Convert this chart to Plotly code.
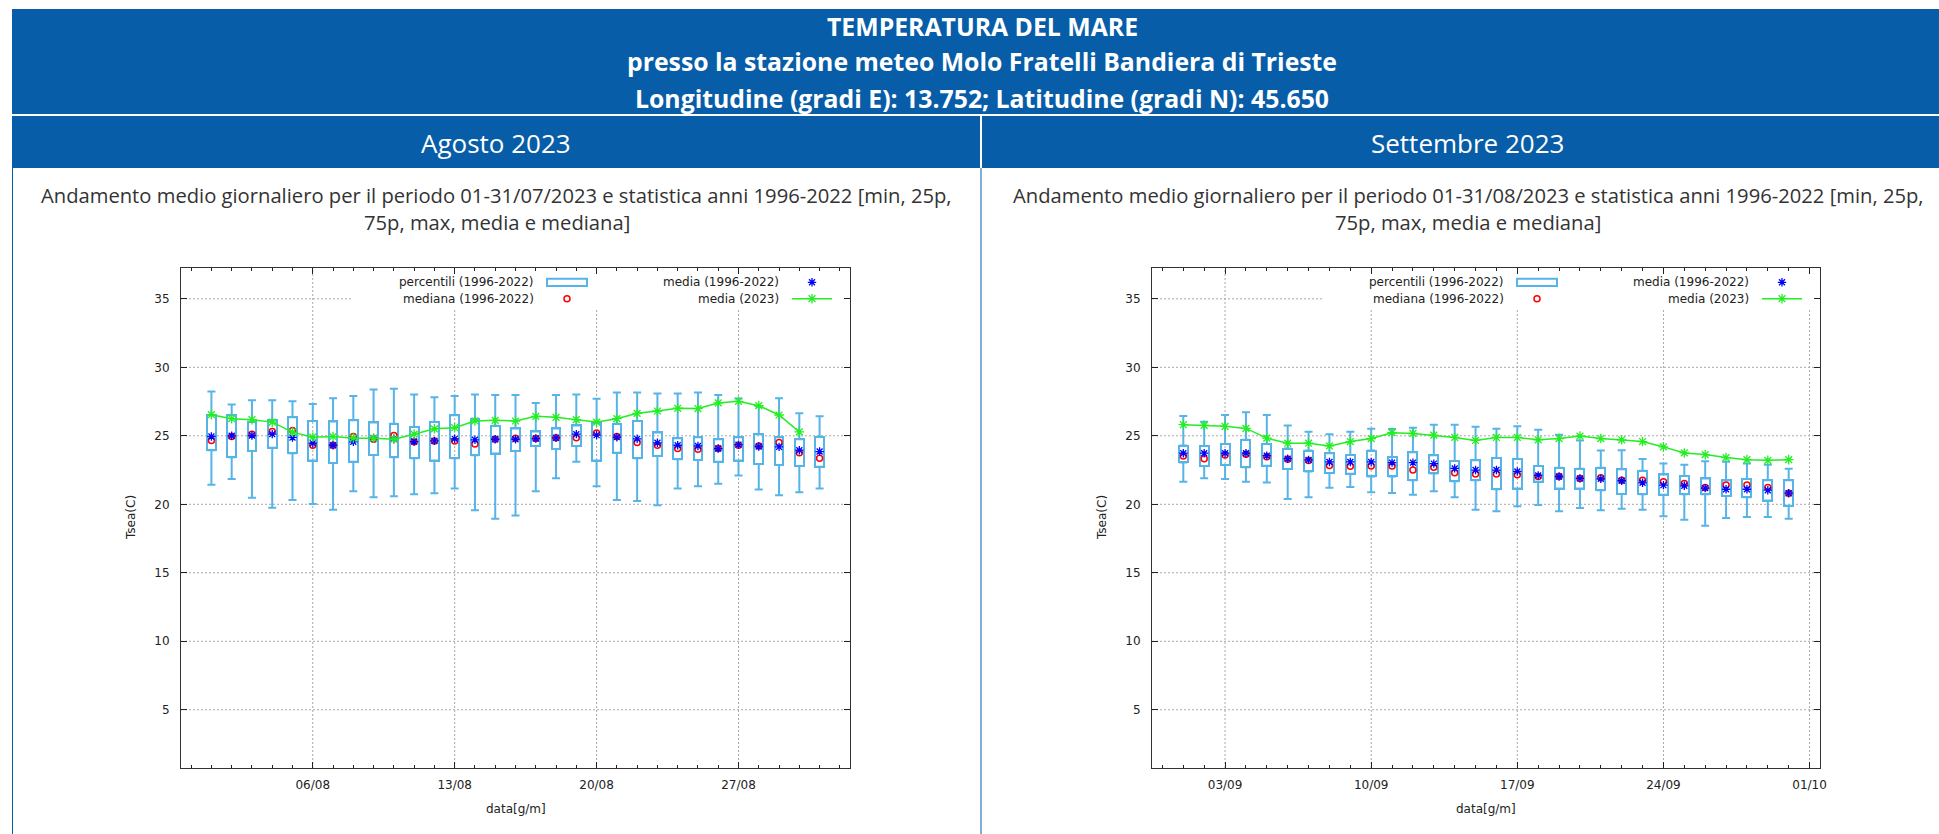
import pandas as pd
import plotly.graph_objects as go

# ---------------- data ----------------
aug_days = pd.date_range("2023-08-01", periods=31, freq="D")
aug_min = [21.42, 21.84, 20.47, 19.75, 20.32, 20.02, 19.61, 20.96, 20.51, 20.59, 20.74, 20.81, 21.15, 19.56, 18.95, 19.19,
           20.96, 21.91, 23.11, 21.32, 20.32, 20.25, 19.93, 21.15, 21.32, 21.50, 22.11, 21.08, 20.66, 20.88, 21.15]
aug_q1 = [23.95, 23.43, 23.90, 24.12, 23.73, 23.19, 23.01, 23.11, 23.60, 23.43, 23.36, 23.19, 23.36, 23.58, 23.70, 23.90,
          24.26, 24.04, 24.26, 23.19, 23.77, 23.36, 23.53, 23.28, 23.24, 23.11, 23.19, 22.94, 22.87, 22.79, 22.75]
aug_q3 = [26.50, 26.52, 26.03, 26.13, 26.35, 26.08, 26.05, 26.13, 25.98, 25.88, 25.64, 26.00, 26.50, 26.25, 25.74, 25.54,
          25.32, 25.54, 25.76, 25.93, 25.88, 26.08, 25.25, 24.83, 24.90, 24.75, 24.90, 25.12, 24.90, 24.75, 24.93]
aug_max = [28.24, 27.28, 27.60, 27.60, 27.52, 27.33, 27.75, 27.90, 28.38, 28.43, 28.01, 27.82, 27.90, 28.01, 27.97, 27.97,
           27.40, 27.97, 28.01, 27.70, 28.16, 28.16, 28.09, 28.09, 28.16, 27.97, 27.72, 27.15, 27.75, 26.64, 26.42]
aug_mean = [24.95, 25.00, 25.02, 25.12, 24.88, 24.46, 24.31, 24.56, 24.83, 24.78, 24.58, 24.63, 24.78, 24.71, 24.75, 24.75,
            24.80, 24.85, 25.12, 25.05, 24.90, 24.78, 24.49, 24.31, 24.26, 24.07, 24.36, 24.22, 24.19, 23.95, 23.85]
aug_median = [24.66, 24.95, 25.12, 25.32, 25.39, 24.31, 24.31, 24.95, 24.75, 25.02, 24.56, 24.63, 24.63, 24.41, 24.75, 24.83,
              24.80, 24.85, 24.85, 25.20, 24.95, 24.51, 24.31, 24.07, 24.02, 24.07, 24.31, 24.26, 24.51, 23.77, 23.36]
aug_2023 = [26.54, 26.25, 26.18, 26.00, 25.27, 24.90, 24.95, 24.83, 24.83, 24.75, 25.12, 25.51, 25.59, 26.08, 26.13, 26.08,
            26.42, 26.35, 26.18, 26.00, 26.25, 26.64, 26.81, 27.01, 26.99, 27.40, 27.52, 27.20, 26.52, 25.29, None]

sep_days = pd.date_range("2023-09-01", periods=30, freq="D")
sep_min = [21.64, 21.91, 21.84, 21.64, 21.59, 20.39, 20.51, 21.20, 21.27, 20.88, 20.83, 20.69, 20.96, 20.51, 19.61,
           19.49, 19.85, 19.95, 19.49, 19.73, 19.56, 19.68, 19.61, 19.12, 18.87, 18.43, 19.00, 19.07, 19.07, 18.95]
sep_q1 = [23.06, 22.79, 22.87, 22.70, 22.82, 22.57, 22.40, 22.28, 22.23, 22.03, 22.03, 21.76, 22.25, 21.69, 21.76,
          21.10, 21.15, 21.64, 21.15, 21.15, 21.03, 20.76, 20.74, 20.69, 20.74, 20.74, 20.61, 20.51, 20.27, 19.90]
sep_q3 = [24.29, 24.26, 24.41, 24.71, 24.41, 24.07, 23.92, 23.73, 23.60, 23.92, 23.46, 23.80, 23.58, 23.16, 23.21,
          23.38, 23.31, 22.79, 22.67, 22.60, 22.67, 22.55, 22.45, 22.18, 22.06, 21.89, 21.76, 21.84, 21.76, 21.76]
sep_max = [26.45, 26.03, 26.52, 26.72, 26.52, 25.76, 25.29, 25.12, 25.29, 25.51, 25.50, 25.59, 25.81, 25.81, 25.66,
           25.51, 25.69, 25.44, 25.07, 24.65, 23.92, 23.95, 23.31, 22.97, 22.89, 23.14, 23.11, 22.97, 22.89, 22.60]
sep_mean = [23.73, 23.73, 23.73, 23.73, 23.55, 23.33, 23.24, 23.09, 23.09, 23.09, 23.04, 23.04, 22.97, 22.62, 22.50,
            22.50, 22.40, 22.11, 22.03, 21.89, 21.86, 21.72, 21.57, 21.40, 21.35, 21.18, 21.10, 21.10, 21.03, 20.81]
sep_median = [23.53, 23.33, 23.60, 23.65, 23.48, 23.28, 23.19, 22.84, 22.77, 22.79, 22.79, 22.50, 22.70, 22.30, 22.21,
              22.21, 22.16, 22.03, 22.03, 21.89, 21.94, 21.76, 21.76, 21.64, 21.52, 21.23, 21.40, 21.40, 21.23, 20.81]
sep_2023 = [25.81, 25.76, 25.69, 25.54, 24.83, 24.46, 24.46, 24.26, 24.58, 24.80, 25.23, 25.17, 25.05, 24.88, 24.66,
            24.88, 24.88, 24.71, 24.80, 24.98, 24.80, 24.71, 24.58, 24.19, 23.75, 23.63, 23.41, 23.26, 23.21, 23.26]

y_ticks = [5, 10, 15, 20, 25, 30, 35]
legend_labels = ["percentili (1996-2022)", "media (1996-2022)", "mediana (1996-2022)", "media (2023)"]

# ---------------- styling ----------------
W, H = 1939, 834
BLUE_HDR = "#075da8"
BOXC = "#56b4e9"
GREEN = "#22ee22"
GRID = "#a8a8a8"
TXT = "#222222"
FONT = "DejaVu Sans"
HFONT = "Open Sans"
DAY_MS = 86400000
Y_RANGE = [0.75, 37.25]


def px(x):
    return x / W


def py(y):
    return 1 - y / H


L_X = [px(181), px(850)]
R_X = [px(1152), px(1820)]
Y_D = [py(768), py(268)]

fig = go.Figure()


def add_panel(days, vmin, q1, q3, vmax, mean, median, cur, xa, ya):
    n = len(days)
    fig.add_trace(go.Bar(x=days, y=[b - a for a, b in zip(q1, q3)], base=q1, width=0.43 * DAY_MS,
                         marker=dict(color="rgba(0,0,0,0)", line=dict(color=BOXC, width=2)),
                         xaxis=xa, yaxis=ya, showlegend=False, hoverinfo="skip"))
    fig.add_trace(go.Scatter(x=days, y=q3, mode="markers", marker=dict(size=2, opacity=0),
                             error_y=dict(type="data", symmetric=False,
                                          array=[b - a for a, b in zip(q3, vmax)], arrayminus=[0] * n,
                                          color=BOXC, thickness=2, width=4),
                             xaxis=xa, yaxis=ya, showlegend=False, hoverinfo="skip"))
    fig.add_trace(go.Scatter(x=days, y=q1, mode="markers", marker=dict(size=2, opacity=0),
                             error_y=dict(type="data", symmetric=False,
                                          array=[0] * n, arrayminus=[a - b for a, b in zip(q1, vmin)],
                                          color=BOXC, thickness=2, width=4),
                             xaxis=xa, yaxis=ya, showlegend=False, hoverinfo="skip"))
    fig.add_trace(go.Scatter(x=days, y=median, mode="markers",
                             marker=dict(symbol="circle-open", size=6, color="#ff0000", line=dict(width=1.5)),
                             xaxis=xa, yaxis=ya, showlegend=False))
    fig.add_trace(go.Scatter(x=days, y=mean, mode="markers",
                             marker=dict(symbol="asterisk-open", size=7, color="#0000ff", line=dict(width=1.3)),
                             xaxis=xa, yaxis=ya, showlegend=False))
    fig.add_trace(go.Scatter(x=days, y=cur, mode="lines+markers", line=dict(color=GREEN, width=1.5),
                             marker=dict(symbol="asterisk-open", size=8, color=GREEN, line=dict(width=1.3, color=GREEN)),
                             xaxis=xa, yaxis=ya, showlegend=False, connectgaps=False))


add_panel(aug_days, aug_min, aug_q1, aug_q3, aug_max, aug_mean, aug_median, aug_2023, "x", "y")
add_panel(sep_days, sep_min, sep_q1, sep_q3, sep_max, sep_mean, sep_median, sep_2023, "x2", "y2")

common_x = dict(type="date", tickformat="%d/%m", dtick=7 * DAY_MS, ticks="inside", ticklen=6, tickwidth=1,
                tickcolor="#222", showline=True, linecolor="#333", linewidth=1, mirror="ticks",
                showgrid=False, zeroline=False,
                tickfont=dict(family=FONT, size=12, color=TXT), ticklabelstandoff=6,
                minor=dict(dtick=DAY_MS, ticks="inside", ticklen=3, tickcolor="#222", showgrid=False),
                automargin=False, fixedrange=True)
common_y = dict(range=Y_RANGE, tickvals=y_ticks, ticks="inside", ticklen=6, tickcolor="#222",
                showline=True, linecolor="#333", linewidth=1, mirror="ticks", showgrid=False,
                zeroline=False, tickfont=dict(family=FONT, size=12, color=TXT),
                ticklabelstandoff=8, automargin=False, fixedrange=True, domain=Y_D)

panels = [
    dict(xa="x", ya="y", xo="x3", yo="y3", dom=L_X, pw=669,
         rng=["2023-07-30 12:00", "2023-09-01 12:00"], tick0="2023-08-06"),
    dict(xa="x2", ya="y2", xo="x4", yo="y4", dom=R_X, pw=668,
         rng=["2023-08-30 12:00", "2023-10-01 12:00"], tick0="2023-09-03"),
]

fig.update_layout(
    width=W, height=H, margin=dict(l=0, r=0, t=0, b=0), paper_bgcolor="white",
    plot_bgcolor="rgba(0,0,0,0)", showlegend=False, bargap=0,
    xaxis=dict(domain=L_X, anchor="y", range=panels[0]["rng"], tick0=panels[0]["tick0"], **common_x),
    yaxis=dict(anchor="x", **common_y),
    xaxis2=dict(domain=R_X, anchor="y2", range=panels[1]["rng"], tick0=panels[1]["tick0"], **common_x),
    yaxis2=dict(anchor="x2", **common_y),
    xaxis3=dict(domain=L_X, anchor="y3", range=[0, 1], visible=False, fixedrange=True),
    yaxis3=dict(domain=Y_D, anchor="x3", range=[0, 1], visible=False, fixedrange=True),
    xaxis4=dict(domain=R_X, anchor="y4", range=[0, 1], visible=False, fixedrange=True),
    yaxis4=dict(domain=Y_D, anchor="x4", range=[0, 1], visible=False, fixedrange=True),
)

shapes = []
annots = []

# header bands
shapes.append(dict(type="rect", xref="paper", yref="paper", x0=px(12), x1=1, y0=py(114), y1=py(9),
                   fillcolor=BLUE_HDR, line=dict(width=0), layer="below"))
shapes.append(dict(type="rect", xref="paper", yref="paper", x0=px(12), x1=px(980), y0=py(168), y1=py(116),
                   fillcolor=BLUE_HDR, line=dict(width=0), layer="below"))
shapes.append(dict(type="rect", xref="paper", yref="paper", x0=px(982), x1=1, y0=py(168), y1=py(116),
                   fillcolor=BLUE_HDR, line=dict(width=0), layer="below"))
for xv in (12.5, 981):
    shapes.append(dict(type="line", xref="paper", yref="paper", x0=px(xv), x1=px(xv), y0=0, y1=py(168),
                       line=dict(color=BLUE_HDR, width=1), layer="below"))

title_lines = ["TEMPERATURA DEL MARE",
               "presso la stazione meteo Molo Fratelli Bandiera di Trieste",
               "Longitudine (gradi E): 13.752; Latitudine (gradi N): 45.650"]
for t, yy in zip(title_lines, (26, 61, 98)):
    annots.append(dict(text="<b>%s</b>" % t, xref="paper", yref="paper", x=px(982), y=py(yy),
                       xanchor="center", yanchor="middle", showarrow=False,
                       font=dict(family=HFONT, size=24.8, color="white")))

for t, xc in (("Agosto 2023", 496), ("Settembre 2023", 1467)):
    annots.append(dict(text=t, xref="paper", yref="paper", x=px(xc), y=py(143), xanchor="center",
                       yanchor="middle", showarrow=False, font=dict(family=HFONT, size=26, color="white")))

desc = [("Andamento medio giornaliero per il periodo 01-31/07/2023 e statistica anni 1996-2022 [min, 25p,", 497),
        ("Andamento medio giornaliero per il periodo 01-31/08/2023 e statistica anni 1996-2022 [min, 25p,", 1468)]
for t, xc in desc:
    annots.append(dict(text=t, xref="paper", yref="paper", x=px(xc), y=py(195), xanchor="center",
                       yanchor="middle", showarrow=False, font=dict(family=HFONT, size=20.2, color="#333")))
    annots.append(dict(text="75p, max, media e mediana]", xref="paper", yref="paper", x=px(xc), y=py(222),
                       xanchor="center", yanchor="middle", showarrow=False,
                       font=dict(family=HFONT, size=20.2, color="#333")))

# axis titles
for (x0, x1) in ((181, 850), (1152, 1820)):
    annots.append(dict(text="data[g/m]", xref="paper", yref="paper", x=px((x0 + x1) / 2), y=py(809),
                       xanchor="center", yanchor="middle", showarrow=False,
                       font=dict(family=FONT, size=12, color=TXT)))
    annots.append(dict(text="Tsea(C)", xref="paper", yref="paper", x=px(x0 - 50), y=py(518), textangle=-90,
                       xanchor="center", yanchor="middle", showarrow=False,
                       font=dict(family=FONT, size=12, color=TXT)))

PH = 500
KEY_LEFT = 497     # px from right frame where the opaque key box starts
KEY_BOTTOM = 40    # px from top frame where the key box ends

for p in panels:
    pw = p["pw"]
    fx = lambda off, pw=pw: 1 - off / pw
    xd, yd = p["xa"] + " domain", p["ya"] + " domain"
    key_left = fx(KEY_LEFT)
    key_bottom = 1 - KEY_BOTTOM / PH
    # dotted grid (interrupted by the opaque key box, as in gnuplot)
    t0 = pd.Timestamp(p["rng"][0])
    t1 = pd.Timestamp(p["rng"][1])
    for t in pd.date_range(p["tick0"], t1, freq="7D"):
        frac = (t - t0) / (t1 - t0)
        shapes.append(dict(type="line", xref=p["xa"], yref=yd, x0=t, x1=t, y0=0,
                           y1=key_bottom if frac > key_left else 1,
                           line=dict(color=GRID, width=1, dash="2px,2px"), layer="below"))
    for yv in y_ticks:
        yfrac = (yv - Y_RANGE[0]) / (Y_RANGE[1] - Y_RANGE[0])
        shapes.append(dict(type="line", xref=xd, yref=p["ya"], x0=0,
                           x1=key_left if yfrac > key_bottom else 1, y0=yv, y1=yv,
                           line=dict(color=GRID, width=1, dash="2px,2px"), layer="below"))
    r1 = 1 - 14.3 / PH
    r2 = 1 - 30.7 / PH
    shapes.append(dict(type="rect", xref=xd, yref=yd, x0=fx(303), x1=fx(263), y0=r1 - 3.6 / PH, y1=r1 + 3.6 / PH,
                       line=dict(color=BOXC, width=2), fillcolor="rgba(0,0,0,0)", layer="above"))
    shapes.append(dict(type="line", xref=xd, yref=yd, x0=fx(58), x1=fx(18), y0=r2, y1=r2,
                       line=dict(color=GREEN, width=1.5), layer="above"))
    for lab, xx, yy in ((legend_labels[0], fx(314), r1), (legend_labels[1], fx(69), r1),
                        (legend_labels[2], fx(314), r2), (legend_labels[3], fx(69), r2)):
        annots.append(dict(text=lab, xref=xd, yref=yd, x=xx, y=yy, xanchor="right", yanchor="middle",
                           showarrow=False, font=dict(family=FONT, size=12, color=TXT)))
    fig.add_trace(go.Scatter(x=[fx(283)], y=[r2], mode="markers", xaxis=p["xo"], yaxis=p["yo"], showlegend=False,
                             marker=dict(symbol="circle-open", size=6, color="#ff0000", line=dict(width=1.5)),
                             hoverinfo="skip"))
    fig.add_trace(go.Scatter(x=[fx(38)], y=[r1], mode="markers", xaxis=p["xo"], yaxis=p["yo"], showlegend=False,
                             marker=dict(symbol="asterisk-open", size=7, color="#0000ff", line=dict(width=1.3)),
                             hoverinfo="skip"))
    fig.add_trace(go.Scatter(x=[fx(38)], y=[r2], mode="markers", xaxis=p["xo"], yaxis=p["yo"], showlegend=False,
                             marker=dict(symbol="asterisk-open", size=8, color=GREEN,
                                         line=dict(width=1.3, color=GREEN)), hoverinfo="skip"))

fig.update_layout(shapes=shapes, annotations=annots)

fig.write_html("out.html", config={"displayModeBar": False},
               post_script="document.body.style.margin='0px';")
